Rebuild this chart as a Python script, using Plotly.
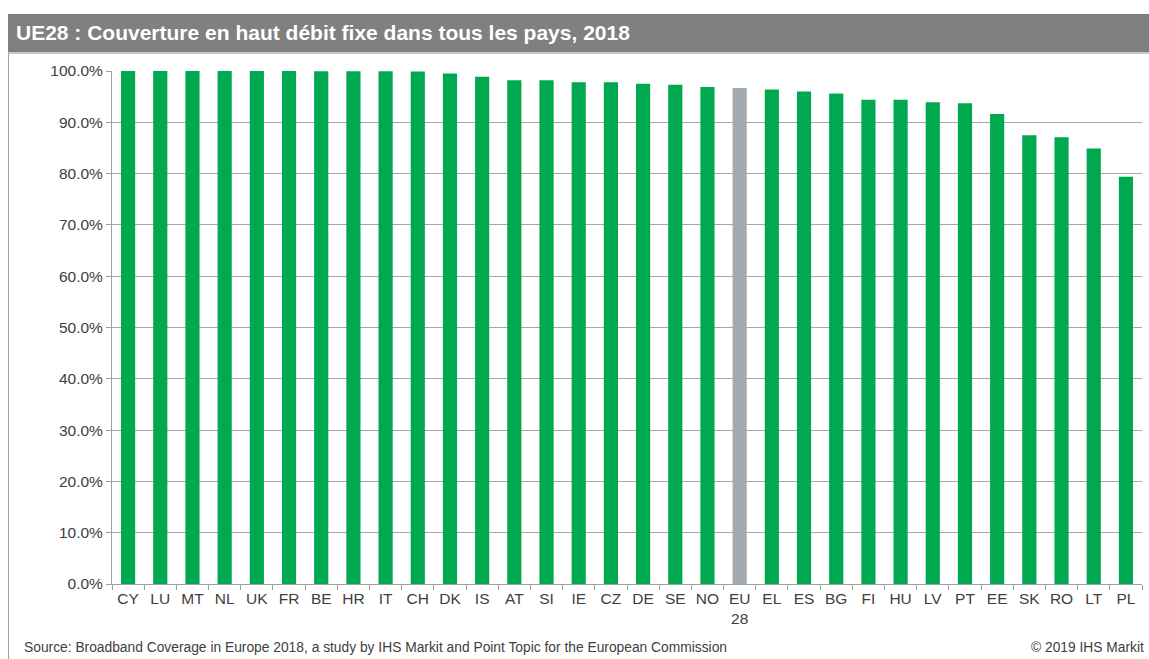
import plotly.graph_objects as go

countries = ["CY", "LU", "MT", "NL", "UK", "FR", "BE", "HR", "IT", "CH", "DK", "IS", "AT", "SI", "IE",
             "CZ", "DE", "SE", "NO", "EU<br>28", "EL", "ES", "BG", "FI", "HU", "LV", "PT", "EE", "SK", "RO", "LT", "PL"]
coverage = [100.0, 100.0, 100.0, 100.0, 100.0, 100.0, 99.95, 99.95, 99.95, 99.9, 99.5, 98.9, 98.2, 98.2, 97.8,
            97.8, 97.5, 97.3, 96.9, 96.7, 96.4, 96.0, 95.6, 94.4, 94.4, 93.9, 93.7, 91.6, 87.5, 87.1, 84.9, 79.4]
y_ticks = [0, 10, 20, 30, 40, 50, 60, 70, 80, 90, 100]

GREEN = "#00a84f"
GREY = "#a4abb0"
colors = [GREY if c.startswith("EU") else GREEN for c in countries]

W, H = 1149, 659
L, R, T, B = 112, 7, 71, 75
pw, ph = W - L - R, H - T - B

def px(x):
    return (x - L) / pw

def py(y):
    return (H - B - y) / ph

FONT = "Liberation Sans Narrow, Arial Narrow, Liberation Sans, Arial, sans-serif"
FONT2 = "Liberation Sans, Arial, sans-serif"

fig = go.Figure(go.Bar(
    x=countries, y=coverage, marker=dict(color=colors, line=dict(width=0)),
    hovertemplate="%{x}: %{y:.1f}%<extra></extra>"
))

fig.update_layout(
    width=W, height=H,
    margin=dict(l=L, r=R, t=T, b=B),
    paper_bgcolor="white", plot_bgcolor="white",
    bargap=0.56,
    showlegend=False,
    font=dict(family=FONT2, size=15, color="#404040"),
    xaxis=dict(
        type="category", tickson="boundaries", ticks="outside", ticklen=5,
        tickcolor="#a0a0a0", showline=True, linecolor="#a0a0a0", linewidth=1,
        tickfont=dict(family=FONT2, size=15.5, color="#404040"),
        tickangle=0, showgrid=False,
    ),
    yaxis=dict(
        range=[0, 100], tickvals=y_ticks, ticktext=[f"{v:.1f}%" for v in y_ticks],
        ticks="outside", ticklen=5, tickcolor="#a0a0a0",
        showline=True, linecolor="#a0a0a0", linewidth=1,
        showgrid=True, gridcolor="#a6a6a6", gridwidth=1,
        zeroline=False,
        tickfont=dict(family=FONT2, size=15.5, color="#404040"),
    ),
    shapes=[
        dict(type="rect", xref="paper", yref="paper", x0=px(8), x1=px(W + 2), y0=py(52), y1=py(14),
             fillcolor="#7f807f", line=dict(width=0), layer="below"),
        dict(type="line", xref="paper", yref="paper", x0=px(8), x1=px(W + 2), y0=py(53), y1=py(53),
             line=dict(color="#c8c8c8", width=2)),
        dict(type="line", xref="paper", yref="paper", x0=px(8.5), x1=px(8.5), y0=py(53), y1=py(H + 2),
             line=dict(color="#a0a0a0", width=1)),
    ],
    annotations=[
        dict(text="<b>UE28 : Couverture en haut débit fixe dans tous les pays, 2018</b>",
             xref="paper", yref="paper", x=px(14), y=py(33), xanchor="left", yanchor="middle",
             showarrow=False, font=dict(family=FONT, size=21, color="white")),
        dict(text="Source: Broadband Coverage in Europe 2018, a study by IHS Markit and Point Topic for the European Commission",
             xref="paper", yref="paper", x=px(22), y=py(647), xanchor="left", yanchor="middle",
             showarrow=False, font=dict(family=FONT, size=13.8, color="#404040")),
        dict(text="© 2019 IHS Markit",
             xref="paper", yref="paper", x=px(1146), y=py(647), xanchor="right", yanchor="middle",
             showarrow=False, font=dict(family=FONT, size=13.8, color="#404040")),
    ],
)

fig.write_html("out.html", config={"displayModeBar": False},
               post_script="document.body.style.margin='0';document.body.style.overflow='hidden';")
